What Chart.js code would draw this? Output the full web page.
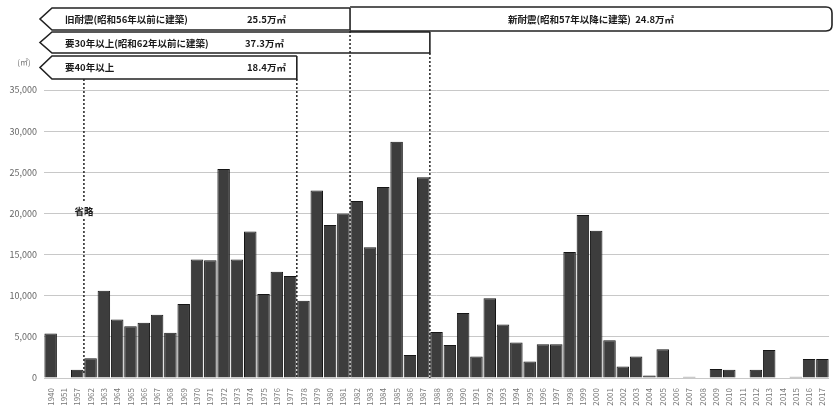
<!DOCTYPE html>
<html>
<head>
<meta charset="utf-8">
<script src="https://cdn.jsdelivr.net/npm/chart.js@4"></script>
<style>
  html, body { margin: 0; padding: 0; background: #fff; }
  #wrap { width: 834px; height: 417px; }
</style>
</head>
<body>
<div id="wrap"><canvas id="chartBar" width="834" height="417"></canvas></div>
<script>
// 建築年度別の延床面積（㎡）
const years = [
  "1940", "1951", "1957",
  "1962", "1963", "1964", "1965", "1966", "1967", "1968", "1969",
  "1970", "1971", "1972", "1973", "1974", "1975", "1976", "1977", "1978", "1979",
  "1980", "1981", "1982", "1983", "1984", "1985", "1986", "1987", "1988", "1989",
  "1990", "1991", "1992", "1993", "1994", "1995", "1996", "1997", "1998", "1999",
  "2000", "2001", "2002", "2003", "2004", "2005", "2006", "2007", "2008", "2009",
  "2010", "2011", "2012", "2013", "2014", "2015", "2016", "2017"
];
const floorArea = [
  5400, 0, 1000,
  2400, 10600, 7100, 6300, 6700, 7700, 5500, 9000,
  14400, 14300, 25400, 14400, 17800, 10200, 12900, 12400, 9400, 22800,
  18600, 20000, 21500, 15900, 23200, 28700, 2800, 24400, 5600, 4000,
  7900, 2600, 9700, 6500, 4300, 2000, 4100, 4100, 15300, 19800,
  17900, 4600, 1400, 2600, 300, 3500, 0, 150, 0, 1100,
  1000, 0, 1000, 3400, 0, 150, 2300, 2300
];
const yTicks = [0, 5000, 10000, 15000, 20000, 25000, 30000, 35000];

// 区分ラベル（境界は「この年まで」）
const boxOld = { text: "旧耐震(昭和56年以前に建築)", area: "25.5万㎡", until: "1981" };
const boxNew = { text: "新耐震(昭和57年以降に建築)  24.8万㎡" };
const box30 = { text: "要30年以上(昭和62年以前に建築)", area: "37.3万㎡", until: "1987" };
const box40 = { text: "要40年以上", area: "18.4万㎡", until: "1977" };
const omitAfter = "1957";

const FONT = "'Noto Sans CJK JP', 'Noto Sans', sans-serif";

function arrowBox(ctx, x0, x1, y0, y1) {
  const mid = (y0 + y1) / 2;
  ctx.beginPath();
  ctx.moveTo(x1, y0);
  ctx.lineTo(x0 + 12, y0);
  ctx.lineTo(x0, mid);
  ctx.lineTo(x0 + 12, y1);
  ctx.lineTo(x1, y1);
  ctx.lineTo(x1, y0);
  ctx.stroke();
}

const annotations = {
  id: "annotations",
  afterDraw(chart) {
    const ctx = chart.ctx;
    const xs = chart.scales.x;
    const area = chart.chartArea;
    const edge = (label) => {
      const i = years.indexOf(label);
      return (xs.getPixelForValue(i) + xs.getPixelForValue(i + 1)) / 2;
    };
    const xOld = edge(boxOld.until);
    const x30 = edge(box30.until);
    const x40 = edge(box40.until);
    const xOmit = edge(omitAfter);
    const left = area.left - 4;

    ctx.save();
    ctx.strokeStyle = "#222";
    ctx.lineWidth = 1.6;

    // 1段目
    arrowBox(ctx, left, xOld, 8, 30);
    ctx.beginPath();
    ctx.moveTo(xOld, 7);
    ctx.lineTo(826, 7);
    ctx.quadraticCurveTo(832, 7, 832, 13);
    ctx.lineTo(832, 25);
    ctx.quadraticCurveTo(832, 31, 826, 31);
    ctx.lineTo(xOld, 31);
    ctx.stroke();
    // 2段目, 3段目
    arrowBox(ctx, left, x30, 32, 53);
    arrowBox(ctx, left, x40, 56, 79);

    ctx.fillStyle = "#1a1a1a";
    ctx.font = "bold 9.5px " + FONT;
    ctx.textBaseline = "middle";
    ctx.textAlign = "left";
    ctx.fillText(boxOld.text, 65, 19);
    ctx.fillText(boxOld.area, 247, 19);
    ctx.fillText(box30.text, 65, 43);
    ctx.fillText(box30.area, 245, 43);
    ctx.fillText(box40.text, 65, 67);
    ctx.fillText(box40.area, 247, 67);
    ctx.textAlign = "center";
    ctx.fillText(boxNew.text, (xOld + 832) / 2, 19);
    ctx.fillText("省略", xOmit, 211);

    // 縦の区切り線
    ctx.lineWidth = 1.5;
    ctx.setLineDash([2, 2]);
    const vline = (x, yA, yB) => {
      ctx.beginPath();
      ctx.moveTo(x, yA);
      ctx.lineTo(x, yB);
      ctx.stroke();
    };
    vline(xOld, 31, area.bottom);
    vline(x30, 53, area.bottom);
    vline(x40, 79, area.bottom);
    vline(xOmit, 79, 203);
    vline(xOmit, 219, area.bottom - 4);

    ctx.setLineDash([]);
    ctx.fillStyle = "#777";
    ctx.font = "8px " + FONT;
    ctx.textAlign = "center";
    ctx.fillText("(㎡)", 24, 62);
    ctx.restore();
  }
};

const ctxBar = document.getElementById("chartBar").getContext("2d");

new Chart(ctxBar, {
  type: "bar",
  data: {
    labels: years,
    datasets: [
      {
        label: "延床面積",
        data: floorArea,
        backgroundColor: "#3d3d3d",
        borderColor: "#161616",
        borderWidth: 1,
        categoryPercentage: 1.0,
        barPercentage: 0.94,
      },
    ],
  },
  options: {
    responsive: false,
    animation: false,
    layout: { padding: { top: 90, right: 0, bottom: 0, left: 0 } },
    plugins: {
      legend: { display: false },
      tooltip: { enabled: false },
    },
    scales: {
      x: {
        grid: { display: false },
        border: { display: false },
        ticks: {
          autoSkip: false,
          minRotation: 90,
          maxRotation: 90,
          padding: 2,
          color: "#777",
          font: { size: 8, family: FONT },
        },
        afterFit(scale) { scale.height = 39; },
      },
      y: {
        min: 0,
        max: 35000,
        afterBuildTicks(scale) { scale.ticks = yTicks.map(v => ({ value: v })); },
        grid: { color: "#c8c8c8", drawTicks: false },
        border: { display: false },
        ticks: {
          padding: 7,
          color: "#666",
          font: { size: 9, family: FONT },
          callback: (v) => v.toLocaleString("en-US"),
        },
        afterFit(scale) { scale.width = 44; },
      },
    },
  },
  plugins: [annotations],
});
</script>
</body>
</html>
